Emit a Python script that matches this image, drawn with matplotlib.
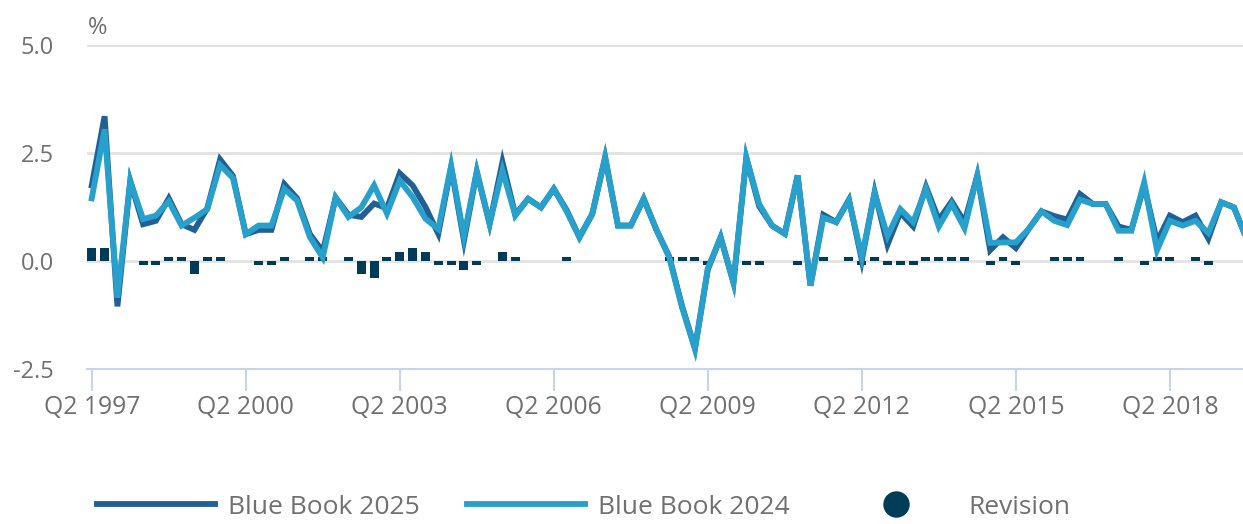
import numpy as np
import matplotlib
matplotlib.use("Agg")
import matplotlib.pyplot as plt
from matplotlib.lines import Line2D

plt.rcParams['font.family'] = ['Open Sans', 'DejaVu Sans']
plt.rcParams['axes.unicode_minus'] = False

# quarterly, Q2 1997 onwards
bb2025 = [1.75, 3.35, -1.05, 1.85, 0.85, 0.93, 1.45, 0.85, 0.72, 1.22,
          2.35, 1.97, 0.62, 0.72, 0.72, 1.78, 1.45, 0.62, 0.22, 1.47,
          1.07, 1.02, 1.33, 1.22, 2.03, 1.75, 1.25, 0.63, 2.17, 0.47,
          2.06, 0.86, 2.29, 1.07, 1.44, 1.24, 1.67, 1.18, 0.55, 1.09,
          2.40, 0.82, 0.82, 1.44, 0.72, 0.10, -1.05, -2.02, -0.20, 0.55,
          -0.50, 2.38, 1.27, 0.82, 0.63, 1.98, -0.57, 1.07, 0.90, 1.42,
          0.02, 1.60, 0.38, 1.12, 0.80, 1.72, 0.95, 1.38, 0.90, 1.98,
          0.25, 0.55, 0.30, 0.74, 1.15, 1.04, 0.96, 1.55, 1.32, 1.32,
          0.80, 0.72, 1.75, 0.45, 1.05, 0.90, 1.05, 0.52, 1.36, 1.24,
          0.50]
bb2024 = [1.45, 3.05, -0.85, 1.85, 0.97, 1.05, 1.38, 0.82, 1.00, 1.20,
          2.22, 1.92, 0.62, 0.82, 0.82, 1.67, 1.40, 0.55, 0.08, 1.47,
          1.02, 1.24, 1.75, 1.10, 1.86, 1.48, 0.98, 0.74, 2.20, 0.57,
          2.08, 0.86, 2.10, 1.05, 1.44, 1.24, 1.67, 1.15, 0.55, 1.09,
          2.40, 0.82, 0.82, 1.44, 0.72, 0.08, -1.08, -2.04, -0.17, 0.55,
          -0.50, 2.40, 1.32, 0.82, 0.63, 1.98, -0.57, 1.00, 0.90, 1.40,
          0.10, 1.57, 0.58, 1.20, 0.90, 1.67, 0.80, 1.32, 0.76, 1.98,
          0.42, 0.43, 0.43, 0.74, 1.15, 0.93, 0.83, 1.42, 1.32, 1.32,
          0.70, 0.70, 1.82, 0.25, 0.93, 0.82, 0.93, 0.65, 1.36, 1.24,
          0.50]
revision = [0.3, 0.3, 0.0, 0.0, -0.1, -0.1, 0.1, 0.1, -0.3, 0.1,
            0.1, 0.0, 0.0, -0.1, -0.1, 0.1, 0.0, 0.1, 0.1, 0.0,
            0.1, -0.3, -0.4, 0.1, 0.2, 0.3, 0.2, -0.1, -0.1, -0.2,
            -0.1, 0.0, 0.2, 0.1, 0.0, 0.0, 0.0, 0.1, 0.0, 0.0,
            0.0, 0.0, 0.0, 0.0, 0.0, 0.1, 0.1, 0.1, -0.1, 0.0,
            0.0, -0.1, -0.1, 0.0, 0.0, -0.1, 0.0, 0.1, 0.0, 0.1,
            -0.1, 0.1, -0.1, -0.1, -0.1, 0.1, 0.1, 0.1, 0.1, 0.0,
            -0.1, 0.1, -0.1, 0.0, 0.0, 0.1, 0.1, 0.1, 0.0, 0.0,
            0.1, 0.0, -0.1, 0.1, 0.1, 0.0, 0.1, -0.1, 0.0, 0.0,
            0.0]

tick_labels = ["Q2 1997", "Q2 2000", "Q2 2003", "Q2 2006",
               "Q2 2009", "Q2 2012", "Q2 2015", "Q2 2018"]
y_ticks = [-2.5, 0.0, 2.5, 5.0]

dark = '#206095'
light = '#27a0cc'
night = '#003c57'
grey = '#707071'
axis_col = '#c9d3ea'

idx = np.arange(len(bb2025))

fig = plt.figure(figsize=(12.43, 5.24), dpi=100)
ax = fig.add_axes([87 / 1243, (524 - 369) / 524, 1 - 87 / 1243, 324 / 524])

# revision bars behind lines
ax.bar(idx, revision, width=0.7, color=night, zorder=2)
ax.plot(idx, bb2025, color=dark, lw=4.2, zorder=3, solid_joinstyle='miter')
ax.plot(idx, bb2024, color=light, lw=4.2, zorder=4, solid_joinstyle='miter')

ax.set_xlim(-0.37, 89.7)
ax.set_ylim(-2.5, 5.0)

ax.set_yticks(y_ticks)
ax.set_yticklabels(["%.1f" % v for v in y_ticks])
ax.set_xticks(idx[::12][:len(tick_labels)])
ax.set_xticklabels(tick_labels)

ax.grid(axis='y', color='#e2e2e3', lw=2, zorder=0)
ax.set_axisbelow(True)
for s in ['top', 'right', 'left']:
    ax.spines[s].set_visible(False)
ax.spines['bottom'].set_color(axis_col)
ax.spines['bottom'].set_linewidth(1.5)

ax.tick_params(axis='y', length=0, pad=24, labelsize=17, labelcolor=grey)
ax.tick_params(axis='x', length=16, width=1.5, color=axis_col, pad=3,
               labelsize=17.8, labelcolor=grey)

fig.text(88 / 1243, 1 - 28 / 524, "%", fontsize=17, color=grey,
         ha='left', va='center')

# legend sits low, as in the source, but kept inside the canvas
handles = [Line2D([], [], color=dark, lw=4.2),
           Line2D([], [], color=light, lw=4.2),
           Line2D([], [], color=night, lw=0, marker='o', markersize=18)]
fig.legend(handles, ["Blue Book 2025", "Blue Book 2024", "Revision"],
           loc='center left', bbox_to_anchor=(97 / 1243, 1 - 507 / 524),
           ncol=3, frameon=False, fontsize=19, labelcolor=grey,
           handlelength=4.47, handletextpad=0.5, columnspacing=1.78,
           borderpad=0, borderaxespad=0)

fig.savefig("out.png", dpi=100)
